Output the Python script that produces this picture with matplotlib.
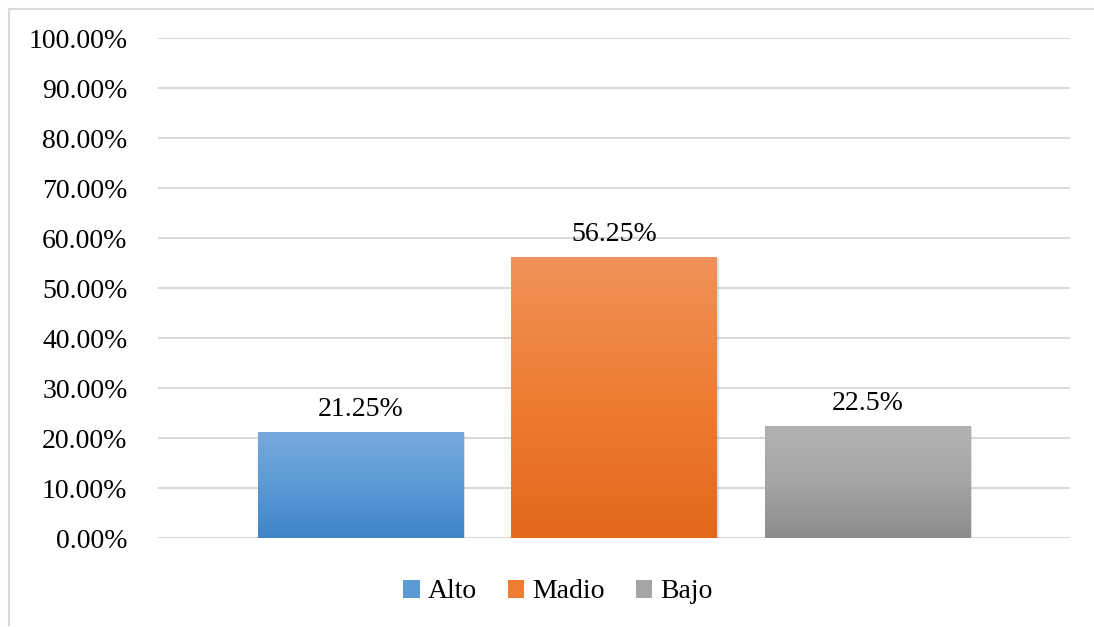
import numpy as np
import matplotlib
matplotlib.use("Agg")
import matplotlib.pyplot as plt
from matplotlib.colors import LinearSegmentedColormap
from matplotlib.patches import Rectangle
from matplotlib.ticker import FuncFormatter, MultipleLocator

categories = ["Alto", "Madio", "Bajo"]
values = [21.25, 56.25, 22.5]
labels = ["21.25%", "56.25%", "22.5%"]
top_colors = ["#78A9DE", "#F1925A", "#B2B2B2"]
bottom_colors = ["#3E85C7", "#E2681A", "#8C8C8C"]
solid_colors = ["#5B9BD5", "#ED7D31", "#A5A5A5"]

plt.rcParams['font.family'] = ['Liberation Serif', 'DejaVu Serif']
FS = 20

fig = plt.figure(figsize=(10.94, 6.27), dpi=100)
ax = fig.add_axes([158/1094, 1 - 538/627, (1070-158)/1094, (538-38)/627])

# chart border (top and left visible)
fig.add_artist(plt.Line2D([9/1094, 9/1094], [1 - 9/627, 1 - 625/627], color="#D9D9D9", lw=1.5))
fig.add_artist(plt.Line2D([9/1094, 1.0], [1 - 9/627, 1 - 9/627], color="#D9D9D9", lw=1.5))

x = np.arange(len(categories))
width = 0.81
ax.set_xlim(-0.8, 2.8)
ax.set_ylim(0, 100)
ax.yaxis.set_major_locator(MultipleLocator(10))
ax.yaxis.set_major_formatter(FuncFormatter(lambda v, p: f"{v:.2f}%"))
ax.grid(axis='y', color="#D9D9D9", lw=1.5)
ax.set_axisbelow(True)
for s in ax.spines.values():
    s.set_visible(False)
ax.tick_params(axis='y', length=0, labelsize=FS, pad=22)
ax.tick_params(axis='x', length=0, labelbottom=False)

handles = []
for i, (xi, v) in enumerate(zip(x, values)):
    # shadow
    sh = Rectangle((xi - width/2 + 0.008, 0), width, v - 0.2, facecolor="#000000", alpha=0.12, lw=0, zorder=2)
    ax.add_patch(sh)
    bar = ax.bar(xi, v, width=width, color=solid_colors[i], zorder=3, label=categories[i])
    patch = bar.patches[0]
    cmap = LinearSegmentedColormap.from_list(f"g{i}", [bottom_colors[i], solid_colors[i], top_colors[i]])
    grad = np.linspace(0, 1, 256).reshape(-1, 1)
    im = ax.imshow(grad, cmap=cmap, aspect='auto', origin='lower',
                   extent=[xi - width/2, xi + width/2, 0, v], zorder=3.5)
    im.set_clip_path(patch)
    handles.append(Rectangle((0, 0), 1, 1, facecolor=solid_colors[i]))
    ax.annotate(labels[i], (xi, v), xytext=(0, 7), textcoords='offset points',
                ha='center', va='bottom', fontsize=FS, color="#000000")

ax.set_xlim(-0.8, 2.8)
ax.set_ylim(0, 100)

fig.legend(handles, categories, loc='center', bbox_to_anchor=(558/1094, 1 - 592/627),
           ncol=3, frameon=False, fontsize=FS, handlelength=0.6, handleheight=0.6,
           handletextpad=0.3, columnspacing=1.1)

fig.savefig("out.png", dpi=100)
